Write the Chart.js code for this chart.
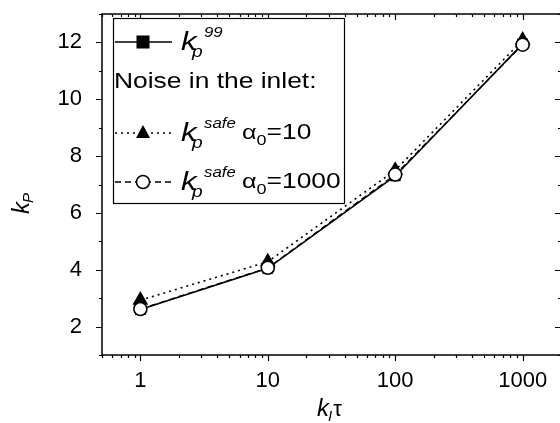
<!DOCTYPE html>
<html>
<head>
<meta charset="utf-8">
<script src="https://cdn.jsdelivr.net/npm/chart.js@4.4.1/dist/chart.umd.min.js"></script>
<style>
  html, body { margin: 0; padding: 0; background: #fff; overflow: hidden; }
  #wrap { width: 560px; height: 423px; overflow: hidden; }
  canvas { display: block; }
</style>
</head>
<body>
<div id="wrap"><canvas id="kpChart" width="562" height="423"></canvas></div>
<script>
// k_I*tau values on the x axis
const kiTau = [1, 10, 100, 1000];
// proportional gain k_p for each case
const kp99 = [2.6, 4.05, 7.3, 11.95];
const kpSafe10 = [2.93, 4.28, 7.5, 12.08];
const kpSafe1000 = [2.62, 4.07, 7.35, 11.92];

const xTickLabels = [1, 10, 100, 1000];
const yTickLabels = [2, 4, 6, 8, 10, 12];
const yMinorTicks = [1, 3, 5, 7, 9, 11, 13];

const FONT = '"Liberation Sans", Arial, sans-serif';
const SX = 1.2; // legend text is set a little wide

const pts = ys => kiTau.map((x, i) => ({ x, y: ys[i] }));

// one piece of text, optionally stretched horizontally; returns end x
function txt(ctx, s, x, y, size, italic, sx = 1) {
  ctx.save();
  ctx.font = `${italic ? 'italic ' : ''}${size}px ${FONT}`;
  ctx.translate(x, y);
  ctx.scale(sx, 1);
  ctx.fillText(s, 0, 0);
  const w = ctx.measureText(s).width * sx;
  ctx.restore();
  return x + w;
}

// k_p with a superscript tag, as used in the legend
function kp(ctx, x, y, sup) {
  txt(ctx, 'k', x, y + 8, 26, true, SX);
  txt(ctx, 'p', x + 11, y + 15, 16, true, SX);
  return txt(ctx, sup, x + 23, y - 5, 14, true, SX);
}

function alpha(ctx, x, y, val) {
  let cx = txt(ctx, 'α', x, y, 21, false, SX);
  cx = txt(ctx, '0', cx, y + 6, 15, false, SX);
  return txt(ctx, '=' + val, cx, y, 22, false, SX);
}

function marker(ctx, style, x, y) {
  ctx.save();
  ctx.lineWidth = 1.5;
  ctx.strokeStyle = '#000';
  if (style === 'rect') {
    ctx.fillStyle = '#000';
    ctx.fillRect(x - 6.5, y - 6.5, 13, 13);
  } else if (style === 'triangle') {
    ctx.fillStyle = '#000';
    ctx.beginPath();
    ctx.moveTo(x, y - 8);
    ctx.lineTo(x + 7, y + 5);
    ctx.lineTo(x - 7, y + 5);
    ctx.closePath();
    ctx.fill();
  } else {
    ctx.fillStyle = '#fff';
    ctx.beginPath();
    ctx.arc(x, y, 6.5, 0, Math.PI * 2);
    ctx.fill();
    ctx.stroke();
  }
  ctx.restore();
}

const framePlugin = {
  id: 'frame',
  afterDraw(chart) {
    const { ctx, chartArea: a, scales: { x, y } } = chart;
    ctx.save();
    ctx.strokeStyle = '#000';
    ctx.lineWidth = 1.5;
    ctx.strokeRect(a.left, a.top, a.right - a.left, a.bottom - a.top);

    ctx.lineWidth = 1.2;
    ctx.beginPath();
    // x ticks: bottom outward, top inward
    for (let d = 0.1; d <= 1000; d *= 10) {
      for (let m = 1; m <= 9; m++) {
        const v = d * m;
        if (v < x.min || v > x.max) continue;
        const px = Math.round(x.getPixelForValue(v)) + 0.5;
        const len = m === 1 ? 6 : 3;
        ctx.moveTo(px, a.bottom); ctx.lineTo(px, a.bottom + len);
        ctx.moveTo(px, a.top); ctx.lineTo(px, a.top + len);
      }
    }
    // y ticks: left outward, right inward
    for (const v of yTickLabels.concat(yMinorTicks)) {
      const py = Math.round(y.getPixelForValue(v)) + 0.5;
      const len = yTickLabels.includes(v) ? 6 : 3;
      ctx.moveTo(a.left, py); ctx.lineTo(a.left - len, py);
      ctx.moveTo(a.right, py); ctx.lineTo(a.right - len, py);
    }
    ctx.stroke();

    // axis titles
    ctx.fillStyle = '#000';
    let cx = txt(ctx, 'k', 317, 416, 24, true);
    cx = txt(ctx, 'I', cx - 1, 421, 15, true);
    txt(ctx, 'τ', cx + 1, 416, 22, false);

    ctx.save();
    ctx.translate(29, 214);
    ctx.rotate(-Math.PI / 2);
    cx = txt(ctx, 'k', 0, 0, 24, true);
    txt(ctx, 'P', cx - 1, 4, 15, true);
    ctx.restore();

    // legend box
    ctx.lineWidth = 1.2;
    ctx.fillStyle = '#fff';
    ctx.fillRect(113, 18, 231, 185);
    ctx.strokeRect(113.5, 18.5, 231, 185);
    ctx.fillStyle = '#000';

    const rows = [
      { y: 42, dash: [], style: 'rect', sup: '99' },
      { y: 133, dash: [2, 4], style: 'triangle', sup: 'safe', alpha: '10' },
      { y: 182, dash: [6, 4], style: 'circle', sup: 'safe', alpha: '1000' }
    ];
    for (const r of rows) {
      ctx.save();
      ctx.lineWidth = 1.5;
      ctx.setLineDash(r.dash);
      ctx.beginPath();
      ctx.moveTo(115, r.y); ctx.lineTo(172, r.y);
      ctx.stroke();
      ctx.restore();
      marker(ctx, r.style, 143, r.y);
      kp(ctx, 181, r.y, r.sup);
      if (r.alpha) alpha(ctx, 242, r.y + 6, r.alpha);
    }
    txt(ctx, 'Noise in the inlet:', 114, 88, 22, false, SX);
    ctx.restore();
  }
};

new Chart(document.getElementById('kpChart'), {
  type: 'scatter',
  data: {
    datasets: [
      {
        label: 'kp99',
        data: pts(kp99),
        showLine: true,
        borderColor: '#000',
        borderWidth: 1.6,
        pointStyle: 'rect',
        pointRadius: 6.5,
        pointBackgroundColor: '#000',
        pointBorderColor: '#000',
        order: 2
      },
      {
        label: 'kpSafe10',
        data: pts(kpSafe10),
        showLine: true,
        borderColor: '#000',
        borderWidth: 1.6,
        borderDash: [2, 4],
        pointStyle: 'triangle',
        pointRadius: 7.5,
        pointBackgroundColor: '#000',
        pointBorderColor: '#000',
        order: 1
      },
      {
        label: 'kpSafe1000',
        data: pts(kpSafe1000),
        showLine: true,
        borderColor: '#000',
        borderWidth: 1.2,
        borderDash: [6, 4],
        pointStyle: 'circle',
        pointRadius: 6.5,
        pointBorderWidth: 1.6,
        pointBackgroundColor: '#fff',
        pointBorderColor: '#000',
        order: 0
      }
    ]
  },
  options: {
    responsive: false,
    animation: false,
    layout: { autoPadding: false, padding: { left: 0, top: 14, right: 1, bottom: 0 } },
    plugins: { legend: { display: false }, tooltip: { enabled: false } },
    scales: {
      x: {
        type: 'logarithmic',
        min: 0.5,
        max: 2000,
        afterBuildTicks: s => { s.ticks = xTickLabels.map(v => ({ value: v })); },
        afterFit: s => { s.height = 68; s.paddingLeft = 0; s.paddingRight = 0; },
        grid: { display: false },
        border: { display: false },
        ticks: {
          color: '#000',
          font: { family: FONT, size: 22 },
          padding: 5,
          maxRotation: 0,
          autoSkip: false,
          callback: v => String(v)
        }
      },
      y: {
        min: 1,
        max: 13,
        afterBuildTicks: s => { s.ticks = yTickLabels.map(v => ({ value: v })); },
        afterFit: s => { s.width = 102; s.paddingTop = 0; s.paddingBottom = 0; },
        grid: { display: false },
        border: { display: false },
        ticks: {
          color: '#000',
          font: { family: FONT, size: 22 },
          padding: 12
        }
      }
    }
  },
  plugins: [framePlugin]
});
</script>
</body>
</html>
